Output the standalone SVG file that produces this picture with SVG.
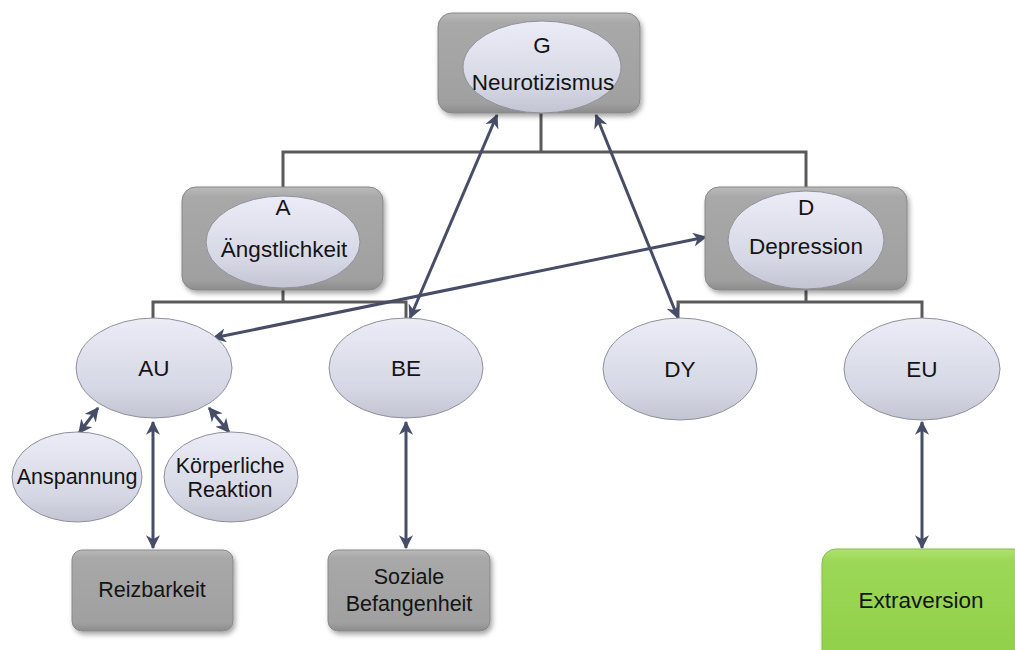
<svg xmlns="http://www.w3.org/2000/svg" width="1015" height="650" viewBox="0 0 1015 650">
  <defs>
    <linearGradient id="ellFill" x1="0" y1="0" x2="0" y2="1">
      <stop offset="0" stop-color="#ebecf6"/>
      <stop offset="0.7" stop-color="#d5d7e4"/>
      <stop offset="1" stop-color="#c2c4d2"/>
    </linearGradient>
    <linearGradient id="boxFill" x1="0" y1="0" x2="0" y2="1">
      <stop offset="0" stop-color="#bababa"/>
      <stop offset="0.1" stop-color="#a8a8a8"/>
      <stop offset="0.9" stop-color="#a0a0a0"/>
      <stop offset="1" stop-color="#8c8c8c"/>
    </linearGradient>
    <linearGradient id="greenFill" x1="0" y1="0" x2="0" y2="1">
      <stop offset="0" stop-color="#b0e070"/>
      <stop offset="0.1" stop-color="#9cd857"/>
      <stop offset="1" stop-color="#8fcf48"/>
    </linearGradient>
    <filter id="shadow" x="-10%" y="-10%" width="125%" height="130%">
      <feDropShadow dx="2" dy="3" stdDeviation="2.5" flood-color="#000" flood-opacity="0.35"/>
    </filter>
    <marker id="arrow" viewBox="0 0 12 12" markerWidth="14" markerHeight="14" refX="11" refY="6" orient="auto-start-reverse" markerUnits="userSpaceOnUse">
      <path d="M0,0 L12,6 L0,12 L3.5,6 z" fill="#474d66"/>
    </marker>
    <style>
      .box { fill: url(#boxFill); stroke: #888888; stroke-width: 1; filter: url(#shadow); }
      .green { fill: url(#greenFill); stroke: #86bf4a; stroke-width: 1; filter: url(#shadow); }
      .ell { fill: url(#ellFill); stroke: #8f909c; stroke-width: 1; }
      .tree { fill: none; stroke: #5a5a5a; stroke-width: 3; }
      .link { fill: none; stroke: #474d66; stroke-width: 3; marker-start: url(#arrow); marker-end: url(#arrow); }
      text { font-family: "Liberation Sans", Arial, sans-serif; fill: #141414; text-anchor: middle; }
      .big { font-size: 22.5px; }
      .small { font-size: 21.5px; }
    </style>
  </defs>

  <!-- hierarchy lines -->
  <g id="connectors">
    <path class="tree" d="M541,112 V152 M283,188 V152 H806 V188"/>
    <path class="tree" d="M283,290 V302 M153,320 V302 H406 V320"/>
    <path class="tree" d="M806,290 V302 M678,320 V302 H922 V320"/>
    <!-- correlations -->
    <line class="link" x1="213" y1="338" x2="706" y2="237"/>
    <line class="link" x1="410" y1="318" x2="497" y2="115"/>
    <line class="link" x1="678" y1="318" x2="596" y2="115"/>
    <line class="link" x1="98" y1="408" x2="79" y2="433"/>
    <line class="link" x1="209" y1="408" x2="229" y2="432"/>
    <line class="link" x1="153" y1="422" x2="153" y2="548"/>
    <line class="link" x1="406" y1="422" x2="406" y2="548"/>
    <line class="link" x1="922" y1="422" x2="922" y2="548"/>
  </g>

  <g id="node-G">
    <rect class="box" x="438" y="13" width="202" height="100" rx="14"/>
    <ellipse class="ell" cx="542" cy="67" rx="79" ry="46"/>
    <text class="big" x="542" y="53">G</text>
    <text class="big" x="543" y="90">Neurotizismus</text>
  </g>

  <g id="node-A">
    <rect class="box" x="182" y="187" width="201" height="103" rx="14"/>
    <ellipse class="ell" cx="283" cy="242" rx="77" ry="46"/>
    <text class="big" x="283" y="215">A</text>
    <text class="big" x="284" y="257" font-size="24">Ängstlichkeit</text>
  </g>

  <g id="node-D">
    <rect class="box" x="705" y="187" width="202" height="103" rx="14"/>
    <ellipse class="ell" cx="806" cy="240" rx="78" ry="49"/>
    <text class="big" x="806" y="215">D</text>
    <text class="big" x="806" y="254">Depression</text>
  </g>

  <g id="node-AU">
    <ellipse class="ell" cx="154" cy="368" rx="78" ry="50"/>
    <text class="big" x="154" y="376">AU</text>
  </g>

  <g id="node-BE">
    <ellipse class="ell" cx="406" cy="368" rx="77" ry="50"/>
    <text class="big" x="406" y="376">BE</text>
  </g>

  <g id="node-DY">
    <ellipse class="ell" cx="680" cy="369" rx="77" ry="51"/>
    <text class="big" x="680" y="377">DY</text>
  </g>

  <g id="node-EU">
    <ellipse class="ell" cx="922" cy="369" rx="78" ry="51"/>
    <text class="big" x="922" y="377">EU</text>
  </g>

  <g id="node-Anspannung">
    <ellipse class="ell" cx="77" cy="477" rx="65" ry="45"/>
    <text class="small" x="77" y="484">Anspannung</text>
  </g>

  <g id="node-Koerperliche">
    <ellipse class="ell" cx="231" cy="477" rx="67" ry="45"/>
    <text class="small" x="230" y="473">Körperliche</text>
    <text class="small" x="230" y="497">Reaktion</text>
  </g>

  <g id="node-Reizbarkeit">
    <rect class="box" x="72" y="550" width="161" height="81" rx="10"/>
    <text class="small" x="152" y="597">Reizbarkeit</text>
  </g>

  <g id="node-Soziale">
    <rect class="box" x="328" y="550" width="162" height="81" rx="10"/>
    <text class="small" x="409" y="584">Soziale</text>
    <text class="small" x="409" y="611">Befangenheit</text>
  </g>

  <g id="node-Extraversion">
    <rect class="green" x="822" y="549" width="205" height="120" rx="14"/>
    <text class="big" x="921" y="608" font-size="23">Extraversion</text>
  </g>
</svg>
